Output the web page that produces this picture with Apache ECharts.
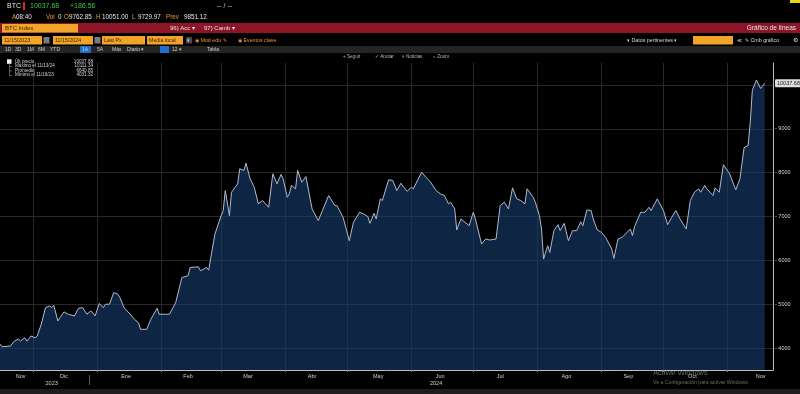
<!DOCTYPE html>
<html><head><meta charset="utf-8">
<script src="https://cdn.jsdelivr.net/npm/echarts@6/dist/echarts.min.js"></script>
<style>html,body{margin:0;padding:0;background:#000;}#c{width:800px;height:394px;}</style>
</head><body><div id="c"></div>
<script>
// ---- data ----
const dates = [
 '2023-11-15','2023-11-16','2023-11-20','2023-11-22','2023-11-24','2023-11-25','2023-11-27','2023-11-28','2023-11-30',
 '2023-12-02','2023-12-03','2023-12-05','2023-12-07','2023-12-09','2023-12-10','2023-12-11','2023-12-13','2023-12-14','2023-12-16','2023-12-18','2023-12-21','2023-12-23','2023-12-25','2023-12-27','2023-12-29','2023-12-31',
 '2024-01-02','2024-01-04','2024-01-05','2024-01-07','2024-01-09','2024-01-11','2024-01-12','2024-01-14','2024-01-17','2024-01-19','2024-01-21','2024-01-22','2024-01-25','2024-01-27','2024-01-30','2024-01-31',
 '2024-02-03','2024-02-05','2024-02-08','2024-02-11','2024-02-14','2024-02-15','2024-02-19','2024-02-20','2024-02-23','2024-02-24','2024-02-25','2024-02-27',
 '2024-03-01','2024-03-02','2024-03-03','2024-03-05','2024-03-06','2024-03-09','2024-03-10','2024-03-12','2024-03-13','2024-03-15','2024-03-17','2024-03-19','2024-03-21','2024-03-24','2024-03-26','2024-03-28','2024-03-30','2024-03-31',
 '2024-04-02','2024-04-03','2024-04-04','2024-04-06','2024-04-07','2024-04-09','2024-04-11','2024-04-14','2024-04-17','2024-04-19','2024-04-22','2024-04-25','2024-04-26','2024-04-29',
 '2024-05-02','2024-05-04','2024-05-07','2024-05-09','2024-05-11','2024-05-12','2024-05-14','2024-05-15','2024-05-17','2024-05-18','2024-05-21','2024-05-23','2024-05-25','2024-05-27','2024-05-28','2024-05-30',
 '2024-06-01','2024-06-02','2024-06-06','2024-06-08','2024-06-10','2024-06-13','2024-06-15','2024-06-17','2024-06-19','2024-06-20','2024-06-22','2024-06-23','2024-06-25','2024-06-27','2024-06-29',
 '2024-07-01','2024-07-02','2024-07-05','2024-07-07','2024-07-09','2024-07-12','2024-07-14','2024-07-16','2024-07-18','2024-07-20','2024-07-22','2024-07-24','2024-07-26','2024-07-27','2024-07-30','2024-07-31',
 '2024-08-02','2024-08-03','2024-08-04','2024-08-06','2024-08-07','2024-08-09','2024-08-11','2024-08-12','2024-08-14','2024-08-16','2024-08-18','2024-08-20','2024-08-22','2024-08-23','2024-08-25','2024-08-27','2024-08-28','2024-08-30',
 '2024-09-01','2024-09-03','2024-09-06','2024-09-07','2024-09-09','2024-09-11','2024-09-15','2024-09-16','2024-09-17','2024-09-20','2024-09-22','2024-09-24','2024-09-25','2024-09-28',
 '2024-10-01','2024-10-03','2024-10-05','2024-10-07','2024-10-09','2024-10-12','2024-10-14','2024-10-16','2024-10-18','2024-10-19','2024-10-21','2024-10-22','2024-10-25','2024-10-26','2024-10-28','2024-10-30',
 '2024-11-02','2024-11-05','2024-11-07','2024-11-09','2024-11-11','2024-11-12','2024-11-13','2024-11-15','2024-11-17','2024-11-19'
];
const prices = [
 4090,4031,4045,4160,4206,4160,4236,4160,4275,
 4236,4275,4549,4922,4961,4922,4977,4618,4693,4824,4771,4732,4908,4922,4771,4847,4732,
 5014,4922,5000,5000,5265,5229,5151,4922,4771,4657,4579,4428,4428,4657,4908,4771,
 4771,4771,5037,5608,5647,5837,5853,5762,5837,5777,6066,6601,
 7020,7135,7592,7020,7553,7746,8089,8050,8217,7860,7668,7288,7364,7211,7974,7746,7958,7860,
 7439,7517,7707,7631,8050,7782,7912,7174,6906,7135,7478,7249,7249,6981,
 6448,6867,7096,7058,6997,6844,7074,6944,7402,7364,7837,7821,7592,7759,7684,7576,
 7668,7631,8011,7897,7805,7592,7517,7478,7288,7326,7174,6693,6944,6867,6791,
 7096,6944,6372,6487,6464,6487,7249,7326,7174,7654,7402,7364,7288,7631,7439,7326,
 7020,6715,6030,6334,6180,6677,6814,6677,6844,6448,6677,6677,6880,6791,7150,7135,6944,6693,
 6638,6524,6258,6043,6487,6524,6716,6563,6768,7096,7096,7211,7135,7402,
 7135,6814,6981,7135,6944,6716,7364,7553,7631,7553,7707,7631,7478,7654,7553,8180,
 7974,7608,7860,8567,8622,9155,9880,10111.34,9919,10037.68
];
const lastPrice = 10037.68;
const axisStart = '2023-11-15';
const axisEnd = '2024-11-23';
const monthNames = ['Ene','Feb','Mar','Abr','May','Jun','Jul','Ago','Sep','Oct','Nov','Dic'];
const monthLabelDates = ['2023-11-25','2023-12-16','2024-01-15','2024-02-14','2024-03-14','2024-04-14','2024-05-16','2024-06-15','2024-07-14','2024-08-15','2024-09-14','2024-10-15','2024-11-17'];
const yearLabelDates = ['2023-12-10','2024-06-13'];
const yearLabels = ['2023','2024'];
const yearSeparator = '2023-12-28';
const legendRows = [['Últ precio','10037.68'],['Máximo el 11/13/24','10111.34'],['Promedio','6640.85'],['Mínimo el 11/16/23','4031.32']];

// ---- build axis and series ----
const axisDays = [];
for (let t = Date.parse(axisStart + 'T00:00:00Z'); t <= Date.parse(axisEnd + 'T00:00:00Z'); t += 86400000) {
  axisDays.push(new Date(t).toISOString().slice(0, 10));
}
const priceByDate = {};
dates.forEach((d, i) => { priceByDate[d] = prices[i]; });
const seriesData = axisDays.map(d => (d in priceByDate ? priceByDate[d] : null));

const FONT = 'Liberation Sans';
function T(x, y, text, fill, size, align, weight) {
  return { type: 'text', x: x, y: y, silent: true, z: 100,
    style: { text: text, fill: fill, font: (weight || 'normal') + ' ' + size + 'px "' + FONT + '"',
      align: align || 'left', textAlign: align || 'left', verticalAlign: 'middle', textVerticalAlign: 'middle' } };
}
function R(x, y, w, h, fill) {
  return { type: 'rect', silent: true, z: 90, shape: { x: x, y: y, width: w, height: h }, style: { fill: fill } };
}
const OR = '#e59c2e', WH = '#e4e4e4', GR = '#3cc44d', BOX = '#f2a42a', BOXT = '#3b2600';
const g = [];
// row 1
g.push(T(7, 6, 'BTC', WH, 7));
g.push(R(23, 2, 2, 8, '#e2212b'));
g.push(T(30, 6, '10037.68', GR, 7));
g.push(T(70, 6, '+186.56', GR, 7));
g.push(T(217, 6, '-- / --', '#cfcfcf', 7));
g.push(R(790, 0, 10, 3, '#f0d21a'));
// row 2
[[12,'A',OR],[16,'08:40',WH],[46,'Vol',OR],[58,'0',WH],[64,'O',OR],[69,'9762.85',WH],[96,'H',OR],[102,'10051.00',WH],[132,'L',OR],[138,'9729.97',WH],[166,'Prev',OR],[184,'9851.12',WH]]
  .forEach(a => g.push(T(a[0], 17, a[1], a[2], 6.3)));
// row 3 red bar
g.push(R(0, 23, 800, 10, '#8d1527'));
g.push(R(2, 24, 76, 8.5, BOX));
g.push(T(5, 28.3, 'BTC Index', BOXT, 6));
g.push(T(170, 28.3, '96) Acc ▾', WH, 6));
g.push(T(204, 28.3, '97) Camb ▾', WH, 6));
g.push(T(796, 28.3, 'Gráfico de líneas', WH, 6.5, 'right'));
// row 4
[[2,40,'11/15/2023'],[53,40,'11/15/2024'],[102,43,'Last Px'],[147,36,'Media local'],[693,40,'']].forEach(a => {
  g.push(R(a[0], 36, a[1], 8.5, BOX));
  if (a[2]) g.push(T(a[0] + 2, 40.3, a[2], BOXT, 5.3));
});
g.push(R(43.5, 37, 6, 6.5, '#7a7a7a'));
g.push(R(94.5, 37, 6, 6.5, '#7a7a7a'));
g.push(R(186, 37, 6, 6.5, '#4a4a4a'));
g.push(T(187, 40.3, '▾', '#ddd', 5));
g.push(T(195, 40.3, '◉ Mod edu ✎', OR, 5.3));
g.push(T(238, 40.3, '◉ Eventos clave', OR, 5.3));
g.push(T(627, 40.3, '▾ Datos pertinentes ▾', '#d8d8d8', 5.3));
g.push(T(737, 40.3, '≪', '#d8d8d8', 5.3));
g.push(T(745, 40.3, '✎ Cmb gráfico', '#d8d8d8', 5.3));
g.push(T(793, 40.3, '⚙', '#d8d8d8', 5.5));
// row 5
g.push(R(0, 46, 800, 7, '#252525'));
g.push(R(80, 46, 11, 7, '#1e6fd0'));
g.push(R(160, 46, 9, 7, '#1e6fd0'));
[[5,'1D'],[15,'3D'],[27,'1M'],[38,'6M'],[50,'YTD'],[82,'1A'],[97,'5A'],[112,'Máx'],[127,'Diario ▾'],[172,'12 ▾'],[207,'Tabla']]
  .forEach(a => g.push(T(a[0], 49.6, a[1], '#cfcfcf', 5)));
// toolbar
[[343,'+ Seguir'],[375,'✓ Anotar'],[402,'≡ Noticias'],[433,'⌕ Zoom']].forEach(a => g.push(T(a[0], 57, a[1], '#b5b5b5', 4.6)));
// legend box
g.push(R(7, 59.3, 4.5, 4.5, '#f2f2f2'));
g.push(R(9, 64, 0.7, 11.5, '#7d7d7d'));
legendRows.forEach((r, i) => {
  const y = 61.6 + i * 4.5;
  if (i > 0) g.push(R(9, y, 3, 0.7, '#7d7d7d'));
  g.push(T(15, y, r[0], '#d2d2d2', 4.6));
  g.push(T(93, y, r[1], '#d2d2d2', 4.6, 'right'));
});
// watermark + bottom strip
g.push(R(0, 389, 800, 5, '#1d1d1d'));
g.push(T(653, 373, 'Activar Windows', 'rgba(190,190,190,0.55)', 7.4));
g.push(T(653, 383, 'Ve a Configuración para activar Windows', 'rgba(190,190,190,0.55)', 5.2));

const chart = echarts.init(document.getElementById('c'), null, { renderer: 'canvas' });
chart.setOption({
  backgroundColor: '#000',
  animation: false,
  textStyle: { fontFamily: FONT },
  grid: { left: -8, right: 27, top: 63, bottom: 24 },
  xAxis: [{
    type: 'category', data: axisDays, boundaryGap: false,
    axisLine: { lineStyle: { color: '#bdbdbd', width: 1 } },
    axisTick: { show: true, interval: (i, v) => v.slice(8) === '01', length: 2, lineStyle: { color: '#8a8a8a' } },
    axisLabel: { interval: (i, v) => monthLabelDates.indexOf(v) >= 0, formatter: v => monthNames[+v.slice(5, 7) - 1],
      color: '#cfcfcf', fontSize: 5.5, margin: 3 },
    splitLine: { show: true, interval: (i, v) => v.slice(8) === '01', lineStyle: { color: '#282828', width: 1 } }
  }, {
    type: 'category', data: axisDays, boundaryGap: false, position: 'bottom', offset: 5,
    axisLine: { show: false },
    axisTick: { show: true, interval: (i, v) => v === yearSeparator, length: 10, lineStyle: { color: '#5a5a5a' } },
    axisLabel: { interval: (i, v) => yearLabelDates.indexOf(v) >= 0, formatter: v => yearLabels[yearLabelDates.indexOf(v)],
      color: '#cfcfcf', fontSize: 5.5, margin: 5 },
    splitLine: { show: false }
  }],
  yAxis: {
    type: 'value', position: 'right', min: 3500, max: 10500, interval: 500,
    axisLine: { show: true, lineStyle: { color: '#bdbdbd', width: 1 } },
    axisTick: { show: false },
    axisLabel: { formatter: v => (v % 1000 === 0 ? '- ' + v : ''), color: '#d4d4d4', fontSize: 5.5, margin: 2 },
    splitLine: { show: true, lineStyle: { color: ['transparent', '#282828'], width: 1 } }
  },
  series: [{
    type: 'line', data: seriesData, connectNulls: true, showSymbol: false, symbol: 'none',
    lineStyle: { color: '#b0bbcb', width: 1 },
    areaStyle: { color: '#173c6c', opacity: 0.62 },
    markLine: {
      silent: true, symbol: ['none', 'none'],
      lineStyle: { color: 'transparent', width: 0 },
      label: { show: true, position: 'end', distance: 2, formatter: () => lastPrice.toFixed(2), color: '#1a1a1a',
        backgroundColor: '#dcdcdc', fontSize: 5.5, padding: [1, 2], borderRadius: 1 },
      data: [{ yAxis: lastPrice }]
    }
  }],
  graphic: g
});
</script></body></html>
